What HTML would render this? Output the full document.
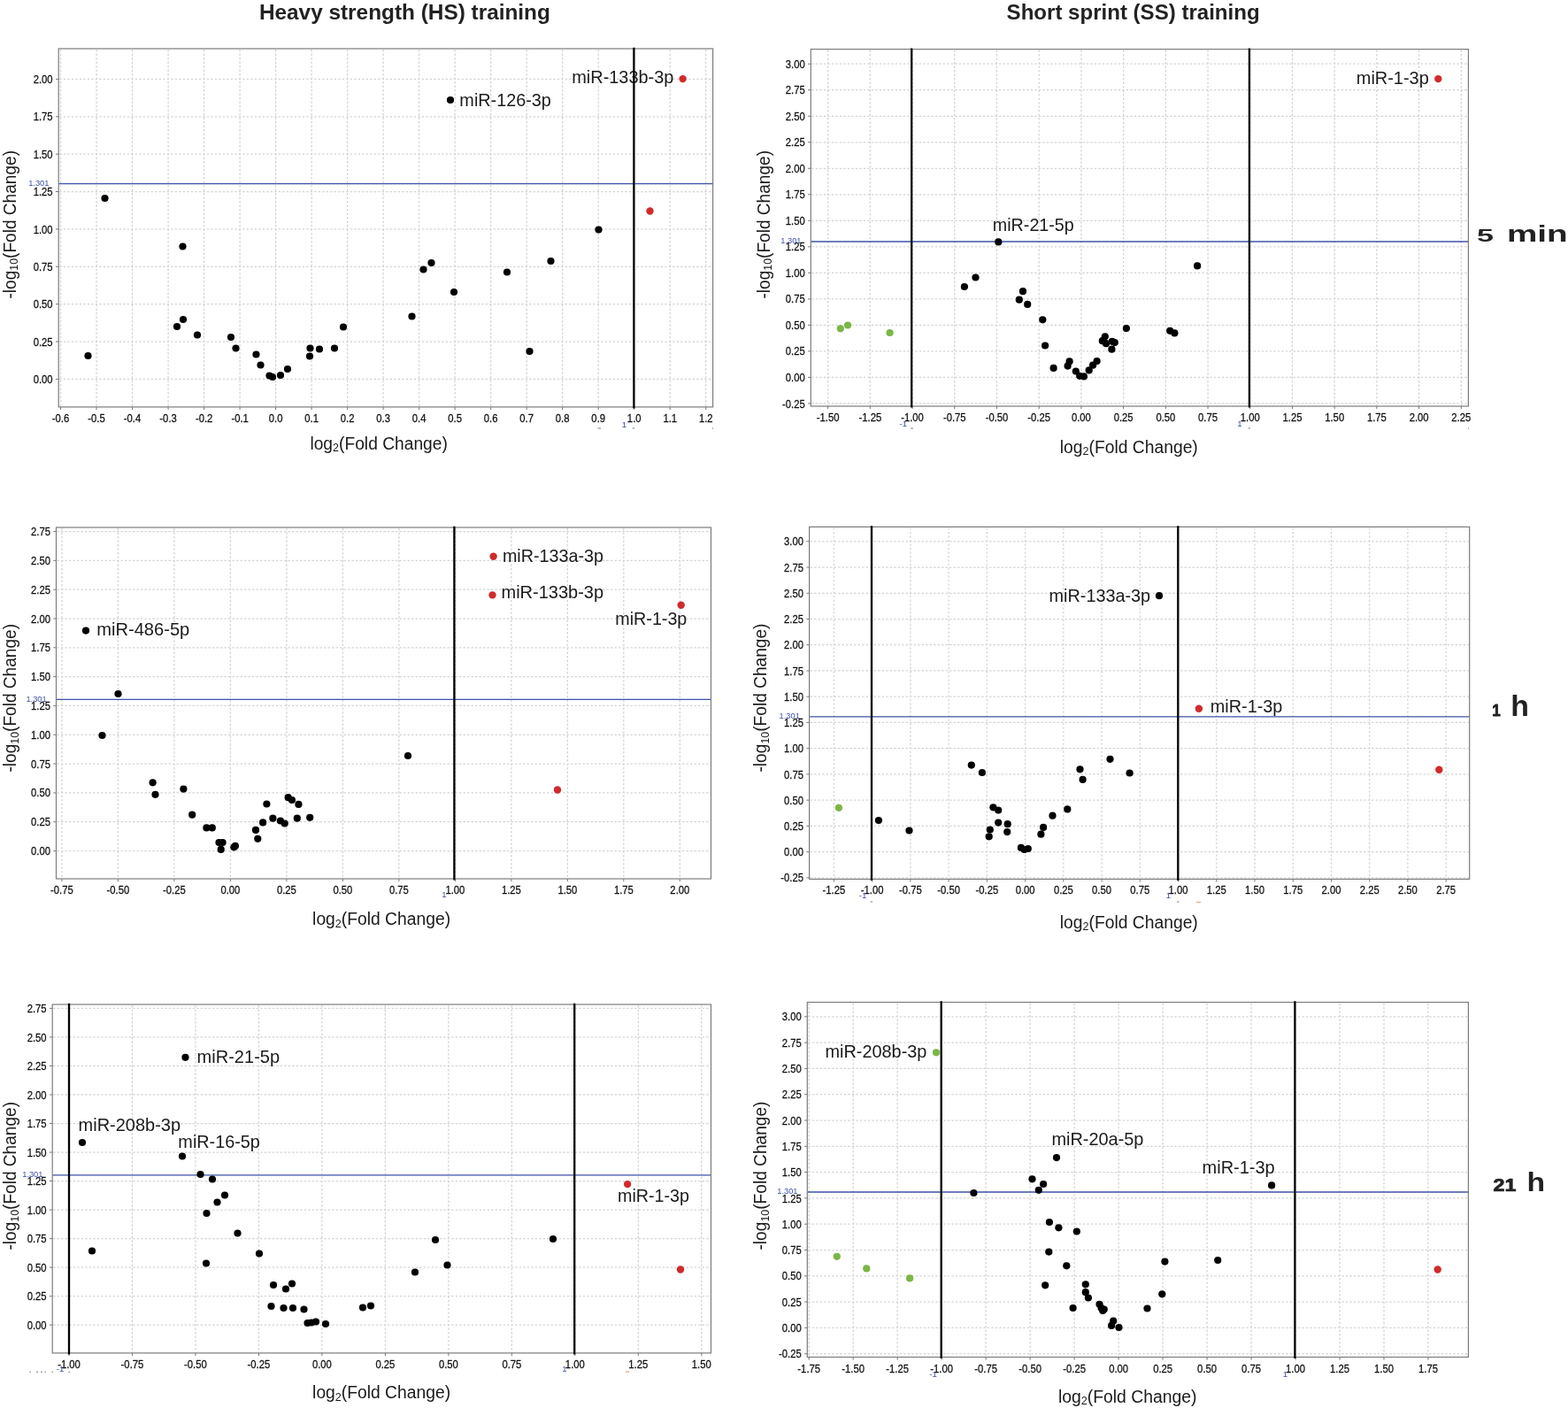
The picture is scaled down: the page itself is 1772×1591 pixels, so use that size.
<!DOCTYPE html><html><head><meta charset="utf-8"><title>Volcano plots: HS vs SS training</title><style>html,body{margin:0;padding:0;background:#fff;overflow:hidden}svg{display:block}</style></head><body>
<svg width="1772" height="1591" viewBox="0 0 1772 1591" font-family="'Liberation Sans', Arial, sans-serif">
<rect width="1772" height="1591" fill="#fff"/>
<path d="M68.54 56V459.4M109.05 56V459.4M149.56 56V459.4M190.07 56V459.4M230.58 56V459.4M271.09 56V459.4M311.6 56V459.4M352.11 56V459.4M392.62 56V459.4M433.13 56V459.4M473.64 56V459.4M514.15 56V459.4M554.66 56V459.4M595.17 56V459.4M635.68 56V459.4M676.19 56V459.4M716.7 56V459.4M757.21 56V459.4M797.72 56V459.4M67.2 428.4H805.1M67.2 386.02H805.1M67.2 343.65H805.1M67.2 301.27H805.1M67.2 258.9H805.1M67.2 216.52H805.1M67.2 174.15H805.1M67.2 131.77H805.1M67.2 89.4H805.1" stroke="#d3d3d3" stroke-width="1.25" stroke-dasharray="2.4 2.1" fill="none"/>
<path d="M68.54 459.9v3.2M109.05 459.9v3.2M149.56 459.9v3.2M190.07 459.9v3.2M230.58 459.9v3.2M271.09 459.9v3.2M311.6 459.9v3.2M352.11 459.9v3.2M392.62 459.9v3.2M433.13 459.9v3.2M473.64 459.9v3.2M514.15 459.9v3.2M554.66 459.9v3.2M595.17 459.9v3.2M635.68 459.9v3.2M676.19 459.9v3.2M716.7 459.9v3.2M757.21 459.9v3.2M797.72 459.9v3.2M66.2 428.4h-3.2M66.2 386.02h-3.2M66.2 343.65h-3.2M66.2 301.27h-3.2M66.2 258.9h-3.2M66.2 216.52h-3.2M66.2 174.15h-3.2M66.2 131.77h-3.2M66.2 89.4h-3.2" stroke="#777" stroke-width="1" fill="none"/>
<rect x="66.2" y="55" width="739.4" height="404.9" fill="none" stroke="#7c7c7c" stroke-width="1.2"/>
<g font-size="12.6" fill="#111" stroke="#111" stroke-width="0.28"><text transform="translate(68.54 476.9) scale(0.895 1)" text-anchor="middle">-0.6</text><text transform="translate(109.05 476.9) scale(0.895 1)" text-anchor="middle">-0.5</text><text transform="translate(149.56 476.9) scale(0.895 1)" text-anchor="middle">-0.4</text><text transform="translate(190.07 476.9) scale(0.895 1)" text-anchor="middle">-0.3</text><text transform="translate(230.58 476.9) scale(0.895 1)" text-anchor="middle">-0.2</text><text transform="translate(271.09 476.9) scale(0.895 1)" text-anchor="middle">-0.1</text><text transform="translate(311.6 476.9) scale(0.895 1)" text-anchor="middle">0.0</text><text transform="translate(352.11 476.9) scale(0.895 1)" text-anchor="middle">0.1</text><text transform="translate(392.62 476.9) scale(0.895 1)" text-anchor="middle">0.2</text><text transform="translate(433.13 476.9) scale(0.895 1)" text-anchor="middle">0.3</text><text transform="translate(473.64 476.9) scale(0.895 1)" text-anchor="middle">0.4</text><text transform="translate(514.15 476.9) scale(0.895 1)" text-anchor="middle">0.5</text><text transform="translate(554.66 476.9) scale(0.895 1)" text-anchor="middle">0.6</text><text transform="translate(595.17 476.9) scale(0.895 1)" text-anchor="middle">0.7</text><text transform="translate(635.68 476.9) scale(0.895 1)" text-anchor="middle">0.8</text><text transform="translate(676.19 476.9) scale(0.895 1)" text-anchor="middle">0.9</text><text transform="translate(716.7 476.9) scale(0.895 1)" text-anchor="middle">1.0</text><text transform="translate(757.21 476.9) scale(0.895 1)" text-anchor="middle">1.1</text><text transform="translate(797.72 476.9) scale(0.895 1)" text-anchor="middle">1.2</text><text transform="translate(59.6 433) scale(0.895 1)" text-anchor="end">0.00</text><text transform="translate(59.6 390.62) scale(0.895 1)" text-anchor="end">0.25</text><text transform="translate(59.6 348.25) scale(0.895 1)" text-anchor="end">0.50</text><text transform="translate(59.6 305.88) scale(0.895 1)" text-anchor="end">0.75</text><text transform="translate(59.6 263.5) scale(0.895 1)" text-anchor="end">1.00</text><text transform="translate(59.6 221.12) scale(0.895 1)" text-anchor="end">1.25</text><text transform="translate(59.6 178.75) scale(0.895 1)" text-anchor="end">1.50</text><text transform="translate(59.6 136.37) scale(0.895 1)" text-anchor="end">1.75</text><text transform="translate(59.6 94) scale(0.895 1)" text-anchor="end">2.00</text></g>
<path d="M66.7 207.7H805.1" stroke="#3f50a8" stroke-width="1.3"/>
<text x="55.4" y="210.1" font-size="9.3" fill="#3f50a8" text-anchor="end">1.301</text>
<text x="705.5" y="482.5" font-size="9.6" fill="#3f50a8" text-anchor="middle">1</text>
<path d="M675.5 484H679" stroke="#999" stroke-width="1.3"/>
<path d="M714.7 484H717.3" stroke="#999" stroke-width="1.3"/>
<path d="M805 484H806" stroke="#999" stroke-width="1.3"/>
<path d="M935.63 56.6V458.5M983.34 56.6V458.5M1031.05 56.6V458.5M1078.76 56.6V458.5M1126.48 56.6V458.5M1174.19 56.6V458.5M1221.9 56.6V458.5M1269.61 56.6V458.5M1317.33 56.6V458.5M1365.04 56.6V458.5M1412.75 56.6V458.5M1460.46 56.6V458.5M1508.18 56.6V458.5M1555.89 56.6V458.5M1603.6 56.6V458.5M1651.31 56.6V458.5M917.3 455.91H1658.9M917.3 426.4H1658.9M917.3 396.88H1658.9M917.3 367.37H1658.9M917.3 337.85H1658.9M917.3 308.34H1658.9M917.3 278.82H1658.9M917.3 249.31H1658.9M917.3 219.79H1658.9M917.3 190.28H1658.9M917.3 160.76H1658.9M917.3 131.25H1658.9M917.3 101.73H1658.9M917.3 72.22H1658.9" stroke="#d3d3d3" stroke-width="1.25" stroke-dasharray="2.4 2.1" fill="none"/>
<path d="M935.63 459v3.2M983.34 459v3.2M1031.05 459v3.2M1078.76 459v3.2M1126.48 459v3.2M1174.19 459v3.2M1221.9 459v3.2M1269.61 459v3.2M1317.33 459v3.2M1365.04 459v3.2M1412.75 459v3.2M1460.46 459v3.2M1508.18 459v3.2M1555.89 459v3.2M1603.6 459v3.2M1651.31 459v3.2M916.3 455.91h-3.2M916.3 426.4h-3.2M916.3 396.88h-3.2M916.3 367.37h-3.2M916.3 337.85h-3.2M916.3 308.34h-3.2M916.3 278.82h-3.2M916.3 249.31h-3.2M916.3 219.79h-3.2M916.3 190.28h-3.2M916.3 160.76h-3.2M916.3 131.25h-3.2M916.3 101.73h-3.2M916.3 72.22h-3.2" stroke="#777" stroke-width="1" fill="none"/>
<rect x="916.3" y="55.6" width="743.1" height="403.4" fill="none" stroke="#7c7c7c" stroke-width="1.2"/>
<g font-size="12.6" fill="#111" stroke="#111" stroke-width="0.28"><text transform="translate(935.63 476) scale(0.895 1)" text-anchor="middle">-1.50</text><text transform="translate(983.34 476) scale(0.895 1)" text-anchor="middle">-1.25</text><text transform="translate(1031.05 476) scale(0.895 1)" text-anchor="middle">-1.00</text><text transform="translate(1078.76 476) scale(0.895 1)" text-anchor="middle">-0.75</text><text transform="translate(1126.48 476) scale(0.895 1)" text-anchor="middle">-0.50</text><text transform="translate(1174.19 476) scale(0.895 1)" text-anchor="middle">-0.25</text><text transform="translate(1221.9 476) scale(0.895 1)" text-anchor="middle">0.00</text><text transform="translate(1269.61 476) scale(0.895 1)" text-anchor="middle">0.25</text><text transform="translate(1317.33 476) scale(0.895 1)" text-anchor="middle">0.50</text><text transform="translate(1365.04 476) scale(0.895 1)" text-anchor="middle">0.75</text><text transform="translate(1412.75 476) scale(0.895 1)" text-anchor="middle">1.00</text><text transform="translate(1460.46 476) scale(0.895 1)" text-anchor="middle">1.25</text><text transform="translate(1508.18 476) scale(0.895 1)" text-anchor="middle">1.50</text><text transform="translate(1555.89 476) scale(0.895 1)" text-anchor="middle">1.75</text><text transform="translate(1603.6 476) scale(0.895 1)" text-anchor="middle">2.00</text><text transform="translate(1651.31 476) scale(0.895 1)" text-anchor="middle">2.25</text><text transform="translate(909.7 460.51) scale(0.895 1)" text-anchor="end">-0.25</text><text transform="translate(909.7 431) scale(0.895 1)" text-anchor="end">0.00</text><text transform="translate(909.7 401.49) scale(0.895 1)" text-anchor="end">0.25</text><text transform="translate(909.7 371.97) scale(0.895 1)" text-anchor="end">0.50</text><text transform="translate(909.7 342.45) scale(0.895 1)" text-anchor="end">0.75</text><text transform="translate(909.7 312.94) scale(0.895 1)" text-anchor="end">1.00</text><text transform="translate(909.7 283.43) scale(0.895 1)" text-anchor="end">1.25</text><text transform="translate(909.7 253.91) scale(0.895 1)" text-anchor="end">1.50</text><text transform="translate(909.7 224.39) scale(0.895 1)" text-anchor="end">1.75</text><text transform="translate(909.7 194.88) scale(0.895 1)" text-anchor="end">2.00</text><text transform="translate(909.7 165.36) scale(0.895 1)" text-anchor="end">2.25</text><text transform="translate(909.7 135.85) scale(0.895 1)" text-anchor="end">2.50</text><text transform="translate(909.7 106.33) scale(0.895 1)" text-anchor="end">2.75</text><text transform="translate(909.7 76.82) scale(0.895 1)" text-anchor="end">3.00</text></g>
<path d="M916.8 273H1658.9" stroke="#3f50a8" stroke-width="1.3"/>
<text x="905.5" y="275.4" font-size="9.3" fill="#3f50a8" text-anchor="end">1.301</text>
<text x="1020.8" y="482" font-size="9.6" fill="#3f50a8" text-anchor="middle">-1</text>
<text x="1401" y="482" font-size="9.6" fill="#3f50a8" text-anchor="middle">1</text>
<path d="M1029.2 484H1031.9" stroke="#999" stroke-width="1.3"/>
<path d="M1410.5 484H1413" stroke="#999" stroke-width="1.3"/>
<path d="M1659 484H1660" stroke="#999" stroke-width="1.3"/>
<path d="M69.93 597V992.5M133.42 597V992.5M196.91 597V992.5M260.4 597V992.5M323.89 597V992.5M387.38 597V992.5M450.87 597V992.5M514.36 597V992.5M577.85 597V992.5M641.34 597V992.5M704.83 597V992.5M768.32 597V992.5M64.5 961.5H803M64.5 928.69H803M64.5 895.88H803M64.5 863.07H803M64.5 830.26H803M64.5 797.45H803M64.5 764.64H803M64.5 731.83H803M64.5 699.02H803M64.5 666.21H803M64.5 633.4H803M64.5 600.59H803" stroke="#d3d3d3" stroke-width="1.25" stroke-dasharray="2.4 2.1" fill="none"/>
<path d="M69.93 993v3.2M133.42 993v3.2M196.91 993v3.2M260.4 993v3.2M323.89 993v3.2M387.38 993v3.2M450.87 993v3.2M514.36 993v3.2M577.85 993v3.2M641.34 993v3.2M704.83 993v3.2M768.32 993v3.2M63.5 961.5h-3.2M63.5 928.69h-3.2M63.5 895.88h-3.2M63.5 863.07h-3.2M63.5 830.26h-3.2M63.5 797.45h-3.2M63.5 764.64h-3.2M63.5 731.83h-3.2M63.5 699.02h-3.2M63.5 666.21h-3.2M63.5 633.4h-3.2M63.5 600.59h-3.2" stroke="#777" stroke-width="1" fill="none"/>
<rect x="63.5" y="596" width="740" height="397" fill="none" stroke="#7c7c7c" stroke-width="1.2"/>
<g font-size="12.6" fill="#111" stroke="#111" stroke-width="0.28"><text transform="translate(69.93 1010) scale(0.895 1)" text-anchor="middle">-0.75</text><text transform="translate(133.42 1010) scale(0.895 1)" text-anchor="middle">-0.50</text><text transform="translate(196.91 1010) scale(0.895 1)" text-anchor="middle">-0.25</text><text transform="translate(260.4 1010) scale(0.895 1)" text-anchor="middle">0.00</text><text transform="translate(323.89 1010) scale(0.895 1)" text-anchor="middle">0.25</text><text transform="translate(387.38 1010) scale(0.895 1)" text-anchor="middle">0.50</text><text transform="translate(450.87 1010) scale(0.895 1)" text-anchor="middle">0.75</text><text transform="translate(514.36 1010) scale(0.895 1)" text-anchor="middle">1.00</text><text transform="translate(577.85 1010) scale(0.895 1)" text-anchor="middle">1.25</text><text transform="translate(641.34 1010) scale(0.895 1)" text-anchor="middle">1.50</text><text transform="translate(704.83 1010) scale(0.895 1)" text-anchor="middle">1.75</text><text transform="translate(768.32 1010) scale(0.895 1)" text-anchor="middle">2.00</text><text transform="translate(56.9 966.1) scale(0.895 1)" text-anchor="end">0.00</text><text transform="translate(56.9 933.29) scale(0.895 1)" text-anchor="end">0.25</text><text transform="translate(56.9 900.48) scale(0.895 1)" text-anchor="end">0.50</text><text transform="translate(56.9 867.67) scale(0.895 1)" text-anchor="end">0.75</text><text transform="translate(56.9 834.86) scale(0.895 1)" text-anchor="end">1.00</text><text transform="translate(56.9 802.05) scale(0.895 1)" text-anchor="end">1.25</text><text transform="translate(56.9 769.24) scale(0.895 1)" text-anchor="end">1.50</text><text transform="translate(56.9 736.43) scale(0.895 1)" text-anchor="end">1.75</text><text transform="translate(56.9 703.62) scale(0.895 1)" text-anchor="end">2.00</text><text transform="translate(56.9 670.81) scale(0.895 1)" text-anchor="end">2.25</text><text transform="translate(56.9 638) scale(0.895 1)" text-anchor="end">2.50</text><text transform="translate(56.9 605.19) scale(0.895 1)" text-anchor="end">2.75</text></g>
<path d="M64 790.4H803" stroke="#3f50a8" stroke-width="1.3"/>
<text x="52.7" y="792.8" font-size="9.3" fill="#3f50a8" text-anchor="end">1.301</text>
<text x="502" y="1014" font-size="9.6" fill="#3f50a8" text-anchor="middle">1</text>
<path d="M942.44 596.4V992.9M985.67 596.4V992.9M1028.9 596.4V992.9M1072.13 596.4V992.9M1115.37 596.4V992.9M1158.6 596.4V992.9M1201.83 596.4V992.9M1245.06 596.4V992.9M1288.3 596.4V992.9M1331.53 596.4V992.9M1374.76 596.4V992.9M1417.99 596.4V992.9M1461.23 596.4V992.9M1504.46 596.4V992.9M1547.69 596.4V992.9M1590.92 596.4V992.9M1634.16 596.4V992.9M915.6 991.83H1660.2M915.6 962.6H1660.2M915.6 933.37H1660.2M915.6 904.13H1660.2M915.6 874.9H1660.2M915.6 845.67H1660.2M915.6 816.44H1660.2M915.6 787.21H1660.2M915.6 757.97H1660.2M915.6 728.74H1660.2M915.6 699.51H1660.2M915.6 670.27H1660.2M915.6 641.04H1660.2M915.6 611.81H1660.2" stroke="#d3d3d3" stroke-width="1.25" stroke-dasharray="2.4 2.1" fill="none"/>
<path d="M942.44 993.4v3.2M985.67 993.4v3.2M1028.9 993.4v3.2M1072.13 993.4v3.2M1115.37 993.4v3.2M1158.6 993.4v3.2M1201.83 993.4v3.2M1245.06 993.4v3.2M1288.3 993.4v3.2M1331.53 993.4v3.2M1374.76 993.4v3.2M1417.99 993.4v3.2M1461.23 993.4v3.2M1504.46 993.4v3.2M1547.69 993.4v3.2M1590.92 993.4v3.2M1634.16 993.4v3.2M914.6 991.83h-3.2M914.6 962.6h-3.2M914.6 933.37h-3.2M914.6 904.13h-3.2M914.6 874.9h-3.2M914.6 845.67h-3.2M914.6 816.44h-3.2M914.6 787.21h-3.2M914.6 757.97h-3.2M914.6 728.74h-3.2M914.6 699.51h-3.2M914.6 670.27h-3.2M914.6 641.04h-3.2M914.6 611.81h-3.2" stroke="#777" stroke-width="1" fill="none"/>
<rect x="914.6" y="595.4" width="746.1" height="398" fill="none" stroke="#7c7c7c" stroke-width="1.2"/>
<g font-size="12.6" fill="#111" stroke="#111" stroke-width="0.28"><text transform="translate(942.44 1010.4) scale(0.895 1)" text-anchor="middle">-1.25</text><text transform="translate(985.67 1010.4) scale(0.895 1)" text-anchor="middle">-1.00</text><text transform="translate(1028.9 1010.4) scale(0.895 1)" text-anchor="middle">-0.75</text><text transform="translate(1072.13 1010.4) scale(0.895 1)" text-anchor="middle">-0.50</text><text transform="translate(1115.37 1010.4) scale(0.895 1)" text-anchor="middle">-0.25</text><text transform="translate(1158.6 1010.4) scale(0.895 1)" text-anchor="middle">0.00</text><text transform="translate(1201.83 1010.4) scale(0.895 1)" text-anchor="middle">0.25</text><text transform="translate(1245.06 1010.4) scale(0.895 1)" text-anchor="middle">0.50</text><text transform="translate(1288.3 1010.4) scale(0.895 1)" text-anchor="middle">0.75</text><text transform="translate(1331.53 1010.4) scale(0.895 1)" text-anchor="middle">1.00</text><text transform="translate(1374.76 1010.4) scale(0.895 1)" text-anchor="middle">1.25</text><text transform="translate(1417.99 1010.4) scale(0.895 1)" text-anchor="middle">1.50</text><text transform="translate(1461.23 1010.4) scale(0.895 1)" text-anchor="middle">1.75</text><text transform="translate(1504.46 1010.4) scale(0.895 1)" text-anchor="middle">2.00</text><text transform="translate(1547.69 1010.4) scale(0.895 1)" text-anchor="middle">2.25</text><text transform="translate(1590.92 1010.4) scale(0.895 1)" text-anchor="middle">2.50</text><text transform="translate(1634.16 1010.4) scale(0.895 1)" text-anchor="middle">2.75</text><text transform="translate(908 996.43) scale(0.895 1)" text-anchor="end">-0.25</text><text transform="translate(908 967.2) scale(0.895 1)" text-anchor="end">0.00</text><text transform="translate(908 937.97) scale(0.895 1)" text-anchor="end">0.25</text><text transform="translate(908 908.74) scale(0.895 1)" text-anchor="end">0.50</text><text transform="translate(908 879.5) scale(0.895 1)" text-anchor="end">0.75</text><text transform="translate(908 850.27) scale(0.895 1)" text-anchor="end">1.00</text><text transform="translate(908 821.04) scale(0.895 1)" text-anchor="end">1.25</text><text transform="translate(908 791.81) scale(0.895 1)" text-anchor="end">1.50</text><text transform="translate(908 762.57) scale(0.895 1)" text-anchor="end">1.75</text><text transform="translate(908 733.34) scale(0.895 1)" text-anchor="end">2.00</text><text transform="translate(908 704.11) scale(0.895 1)" text-anchor="end">2.25</text><text transform="translate(908 674.88) scale(0.895 1)" text-anchor="end">2.50</text><text transform="translate(908 645.64) scale(0.895 1)" text-anchor="end">2.75</text><text transform="translate(908 616.41) scale(0.895 1)" text-anchor="end">3.00</text></g>
<path d="M915.1 809.9H1660.2" stroke="#3f50a8" stroke-width="1.3"/>
<text x="903.8" y="812.3" font-size="9.3" fill="#3f50a8" text-anchor="end">1.301</text>
<text x="975" y="1015" font-size="9.6" fill="#3f50a8" text-anchor="middle">-1</text>
<text x="1320.5" y="1015" font-size="9.6" fill="#3f50a8" text-anchor="middle">1</text>
<path d="M1352 1019.5H1357" stroke="#f0a090" stroke-width="1.3"/>
<path d="M983.5 1019H986" stroke="#999" stroke-width="1.3"/>
<path d="M1330 1019H1332.5" stroke="#999" stroke-width="1.3"/>
<path d="M77.98 1136V1528.4M149.46 1136V1528.4M220.94 1136V1528.4M292.42 1136V1528.4M363.9 1136V1528.4M435.38 1136V1528.4M506.86 1136V1528.4M578.34 1136V1528.4M649.82 1136V1528.4M721.3 1136V1528.4M792.78 1136V1528.4M60.2 1497.2H803M60.2 1464.67H803M60.2 1432.14H803M60.2 1399.62H803M60.2 1367.09H803M60.2 1334.56H803M60.2 1302.04H803M60.2 1269.51H803M60.2 1236.98H803M60.2 1204.45H803M60.2 1171.92H803M60.2 1139.4H803" stroke="#d3d3d3" stroke-width="1.25" stroke-dasharray="2.4 2.1" fill="none"/>
<path d="M77.98 1528.9v3.2M149.46 1528.9v3.2M220.94 1528.9v3.2M292.42 1528.9v3.2M363.9 1528.9v3.2M435.38 1528.9v3.2M506.86 1528.9v3.2M578.34 1528.9v3.2M649.82 1528.9v3.2M721.3 1528.9v3.2M792.78 1528.9v3.2M59.2 1497.2h-3.2M59.2 1464.67h-3.2M59.2 1432.14h-3.2M59.2 1399.62h-3.2M59.2 1367.09h-3.2M59.2 1334.56h-3.2M59.2 1302.04h-3.2M59.2 1269.51h-3.2M59.2 1236.98h-3.2M59.2 1204.45h-3.2M59.2 1171.92h-3.2M59.2 1139.4h-3.2" stroke="#777" stroke-width="1" fill="none"/>
<rect x="59.2" y="1135" width="744.3" height="393.9" fill="none" stroke="#7c7c7c" stroke-width="1.2"/>
<g font-size="12.6" fill="#111" stroke="#111" stroke-width="0.28"><text transform="translate(77.98 1545.9) scale(0.895 1)" text-anchor="middle">-1.00</text><text transform="translate(149.46 1545.9) scale(0.895 1)" text-anchor="middle">-0.75</text><text transform="translate(220.94 1545.9) scale(0.895 1)" text-anchor="middle">-0.50</text><text transform="translate(292.42 1545.9) scale(0.895 1)" text-anchor="middle">-0.25</text><text transform="translate(363.9 1545.9) scale(0.895 1)" text-anchor="middle">0.00</text><text transform="translate(435.38 1545.9) scale(0.895 1)" text-anchor="middle">0.25</text><text transform="translate(506.86 1545.9) scale(0.895 1)" text-anchor="middle">0.50</text><text transform="translate(578.34 1545.9) scale(0.895 1)" text-anchor="middle">0.75</text><text transform="translate(649.82 1545.9) scale(0.895 1)" text-anchor="middle">1.00</text><text transform="translate(721.3 1545.9) scale(0.895 1)" text-anchor="middle">1.25</text><text transform="translate(792.78 1545.9) scale(0.895 1)" text-anchor="middle">1.50</text><text transform="translate(52.6 1501.8) scale(0.895 1)" text-anchor="end">0.00</text><text transform="translate(52.6 1469.27) scale(0.895 1)" text-anchor="end">0.25</text><text transform="translate(52.6 1436.74) scale(0.895 1)" text-anchor="end">0.50</text><text transform="translate(52.6 1404.22) scale(0.895 1)" text-anchor="end">0.75</text><text transform="translate(52.6 1371.69) scale(0.895 1)" text-anchor="end">1.00</text><text transform="translate(52.6 1339.16) scale(0.895 1)" text-anchor="end">1.25</text><text transform="translate(52.6 1306.63) scale(0.895 1)" text-anchor="end">1.50</text><text transform="translate(52.6 1274.11) scale(0.895 1)" text-anchor="end">1.75</text><text transform="translate(52.6 1241.58) scale(0.895 1)" text-anchor="end">2.00</text><text transform="translate(52.6 1209.05) scale(0.895 1)" text-anchor="end">2.25</text><text transform="translate(52.6 1176.52) scale(0.895 1)" text-anchor="end">2.50</text><text transform="translate(52.6 1144) scale(0.895 1)" text-anchor="end">2.75</text></g>
<path d="M59.7 1327.8H803" stroke="#3f50a8" stroke-width="1.3"/>
<text x="48.4" y="1330.2" font-size="9.3" fill="#3f50a8" text-anchor="end">1.301</text>
<text x="68" y="1550" font-size="9.6" fill="#3f50a8" text-anchor="middle">-1</text>
<text x="638" y="1550" font-size="9.6" fill="#3f50a8" text-anchor="middle">1</text>
<path d="M707 1550H711" stroke="#f0a090" stroke-width="1.3"/>
<path d="M33.5 1550.4H35" stroke="#999" stroke-width="1.3"/>
<path d="M41 1550.4H43" stroke="#999" stroke-width="1.3"/>
<path d="M46 1550.4H48" stroke="#999" stroke-width="1.3"/>
<path d="M50.5 1550.4H52" stroke="#999" stroke-width="1.3"/>
<path d="M58.5 1550.4H60" stroke="#999" stroke-width="1.3"/>
<path d="M77.3 1550.4H79.3" stroke="#999" stroke-width="1.3"/>
<path d="M914.2 1133.5V1533M964.19 1133.5V1533M1014.17 1133.5V1533M1064.16 1133.5V1533M1114.14 1133.5V1533M1164.13 1133.5V1533M1214.12 1133.5V1533M1264.1 1133.5V1533M1314.08 1133.5V1533M1364.07 1133.5V1533M1414.05 1133.5V1533M1464.04 1133.5V1533M1514.02 1133.5V1533M1564.01 1133.5V1533M1613.99 1133.5V1533M913.3 1529.7H1658.9M913.3 1500.4H1658.9M913.3 1471.1H1658.9M913.3 1441.8H1658.9M913.3 1412.5H1658.9M913.3 1383.2H1658.9M913.3 1353.9H1658.9M913.3 1324.6H1658.9M913.3 1295.3H1658.9M913.3 1266H1658.9M913.3 1236.7H1658.9M913.3 1207.4H1658.9M913.3 1178.1H1658.9M913.3 1148.8H1658.9" stroke="#d3d3d3" stroke-width="1.25" stroke-dasharray="2.4 2.1" fill="none"/>
<path d="M914.2 1533.5v3.2M964.19 1533.5v3.2M1014.17 1533.5v3.2M1064.16 1533.5v3.2M1114.14 1533.5v3.2M1164.13 1533.5v3.2M1214.12 1533.5v3.2M1264.1 1533.5v3.2M1314.08 1533.5v3.2M1364.07 1533.5v3.2M1414.05 1533.5v3.2M1464.04 1533.5v3.2M1514.02 1533.5v3.2M1564.01 1533.5v3.2M1613.99 1533.5v3.2M912.3 1529.7h-3.2M912.3 1500.4h-3.2M912.3 1471.1h-3.2M912.3 1441.8h-3.2M912.3 1412.5h-3.2M912.3 1383.2h-3.2M912.3 1353.9h-3.2M912.3 1324.6h-3.2M912.3 1295.3h-3.2M912.3 1266h-3.2M912.3 1236.7h-3.2M912.3 1207.4h-3.2M912.3 1178.1h-3.2M912.3 1148.8h-3.2" stroke="#777" stroke-width="1" fill="none"/>
<rect x="912.3" y="1132.5" width="747.1" height="401" fill="none" stroke="#7c7c7c" stroke-width="1.2"/>
<g font-size="12.6" fill="#111" stroke="#111" stroke-width="0.28"><text transform="translate(914.2 1550.5) scale(0.895 1)" text-anchor="middle">-1.75</text><text transform="translate(964.19 1550.5) scale(0.895 1)" text-anchor="middle">-1.50</text><text transform="translate(1014.17 1550.5) scale(0.895 1)" text-anchor="middle">-1.25</text><text transform="translate(1064.16 1550.5) scale(0.895 1)" text-anchor="middle">-1.00</text><text transform="translate(1114.14 1550.5) scale(0.895 1)" text-anchor="middle">-0.75</text><text transform="translate(1164.13 1550.5) scale(0.895 1)" text-anchor="middle">-0.50</text><text transform="translate(1214.12 1550.5) scale(0.895 1)" text-anchor="middle">-0.25</text><text transform="translate(1264.1 1550.5) scale(0.895 1)" text-anchor="middle">0.00</text><text transform="translate(1314.08 1550.5) scale(0.895 1)" text-anchor="middle">0.25</text><text transform="translate(1364.07 1550.5) scale(0.895 1)" text-anchor="middle">0.50</text><text transform="translate(1414.05 1550.5) scale(0.895 1)" text-anchor="middle">0.75</text><text transform="translate(1464.04 1550.5) scale(0.895 1)" text-anchor="middle">1.00</text><text transform="translate(1514.02 1550.5) scale(0.895 1)" text-anchor="middle">1.25</text><text transform="translate(1564.01 1550.5) scale(0.895 1)" text-anchor="middle">1.50</text><text transform="translate(1613.99 1550.5) scale(0.895 1)" text-anchor="middle">1.75</text><text transform="translate(905.7 1534.3) scale(0.895 1)" text-anchor="end">-0.25</text><text transform="translate(905.7 1505) scale(0.895 1)" text-anchor="end">0.00</text><text transform="translate(905.7 1475.7) scale(0.895 1)" text-anchor="end">0.25</text><text transform="translate(905.7 1446.4) scale(0.895 1)" text-anchor="end">0.50</text><text transform="translate(905.7 1417.1) scale(0.895 1)" text-anchor="end">0.75</text><text transform="translate(905.7 1387.8) scale(0.895 1)" text-anchor="end">1.00</text><text transform="translate(905.7 1358.5) scale(0.895 1)" text-anchor="end">1.25</text><text transform="translate(905.7 1329.2) scale(0.895 1)" text-anchor="end">1.50</text><text transform="translate(905.7 1299.9) scale(0.895 1)" text-anchor="end">1.75</text><text transform="translate(905.7 1270.6) scale(0.895 1)" text-anchor="end">2.00</text><text transform="translate(905.7 1241.3) scale(0.895 1)" text-anchor="end">2.25</text><text transform="translate(905.7 1212) scale(0.895 1)" text-anchor="end">2.50</text><text transform="translate(905.7 1182.7) scale(0.895 1)" text-anchor="end">2.75</text><text transform="translate(905.7 1153.4) scale(0.895 1)" text-anchor="end">3.00</text></g>
<path d="M912.8 1347H1658.9" stroke="#3f50a8" stroke-width="1.3"/>
<text x="901.5" y="1349.4" font-size="9.3" fill="#3f50a8" text-anchor="end">1.301</text>
<text x="1054.5" y="1556" font-size="9.6" fill="#3f50a8" text-anchor="middle">-1</text>
<text x="1452.5" y="1556" font-size="9.6" fill="#3f50a8" text-anchor="middle">1</text>
<text x="519.38" y="120.00" font-size="19.8" font-weight="normal" fill="#1a1a1a" textLength="103.51" lengthAdjust="spacingAndGlyphs">miR-126-3p</text>
<text x="646.30" y="94.00" font-size="19.8" font-weight="normal" fill="#1a1a1a" textLength="115.02" lengthAdjust="spacingAndGlyphs">miR-133b-3p</text>
<text x="1121.81" y="260.90" font-size="19.8" font-weight="normal" fill="#1a1a1a" textLength="92.00" lengthAdjust="spacingAndGlyphs">miR-21-5p</text>
<text x="1532.78" y="94.70" font-size="19.8" font-weight="normal" fill="#1a1a1a" textLength="82.02" lengthAdjust="spacingAndGlyphs">miR-1-3p</text>
<text x="109.28" y="717.50" font-size="19.8" font-weight="normal" fill="#1a1a1a" textLength="105.03" lengthAdjust="spacingAndGlyphs">miR-486-5p</text>
<text x="567.91" y="635.10" font-size="19.8" font-weight="normal" fill="#1a1a1a" textLength="113.99" lengthAdjust="spacingAndGlyphs">miR-133a-3p</text>
<text x="566.51" y="676.00" font-size="19.8" font-weight="normal" fill="#1a1a1a" textLength="115.52" lengthAdjust="spacingAndGlyphs">miR-133b-3p</text>
<text x="695.30" y="706.40" font-size="19.8" font-weight="normal" fill="#1a1a1a" textLength="81.02" lengthAdjust="spacingAndGlyphs">miR-1-3p</text>
<text x="1185.59" y="679.80" font-size="19.8" font-weight="normal" fill="#1a1a1a" textLength="114.52" lengthAdjust="spacingAndGlyphs">miR-133a-3p</text>
<text x="1367.81" y="804.80" font-size="19.8" font-weight="normal" fill="#1a1a1a" textLength="81.51" lengthAdjust="spacingAndGlyphs">miR-1-3p</text>
<text x="222.59" y="1200.70" font-size="19.8" font-weight="normal" fill="#1a1a1a" textLength="93.54" lengthAdjust="spacingAndGlyphs">miR-21-5p</text>
<text x="88.59" y="1278.40" font-size="19.8" font-weight="normal" fill="#1a1a1a" textLength="115.52" lengthAdjust="spacingAndGlyphs">miR-208b-3p</text>
<text x="201.39" y="1296.60" font-size="19.8" font-weight="normal" fill="#1a1a1a" textLength="92.51" lengthAdjust="spacingAndGlyphs">miR-16-5p</text>
<text x="698.01" y="1358.30" font-size="19.8" font-weight="normal" fill="#1a1a1a" textLength="81.00" lengthAdjust="spacingAndGlyphs">miR-1-3p</text>
<text x="932.40" y="1194.50" font-size="19.8" font-weight="normal" fill="#1a1a1a" textLength="115.00" lengthAdjust="spacingAndGlyphs">miR-208b-3p</text>
<text x="1188.40" y="1293.90" font-size="19.8" font-weight="normal" fill="#1a1a1a" textLength="104.02" lengthAdjust="spacingAndGlyphs">miR-20a-5p</text>
<text x="1358.60" y="1326.00" font-size="19.8" font-weight="normal" fill="#1a1a1a" textLength="82.02" lengthAdjust="spacingAndGlyphs">miR-1-3p</text>
<text x="350.40" y="507.70" font-size="20.0" font-weight="normal" fill="#1a1a1a" textLength="155.52" lengthAdjust="spacingAndGlyphs">log<tspan font-size="13" dy="2.5">2</tspan><tspan dy="-2.5">(Fold Change)</tspan></text>
<text x="1197.79" y="511.90" font-size="20.0" font-weight="normal" fill="#1a1a1a" textLength="156.01" lengthAdjust="spacingAndGlyphs">log<tspan font-size="13" dy="2.5">2</tspan><tspan dy="-2.5">(Fold Change)</tspan></text>
<text x="353.10" y="1045.30" font-size="20.0" font-weight="normal" fill="#1a1a1a" textLength="156.00" lengthAdjust="spacingAndGlyphs">log<tspan font-size="13" dy="2.5">2</tspan><tspan dy="-2.5">(Fold Change)</tspan></text>
<text x="1197.79" y="1048.90" font-size="20.0" font-weight="normal" fill="#1a1a1a" textLength="156.01" lengthAdjust="spacingAndGlyphs">log<tspan font-size="13" dy="2.5">2</tspan><tspan dy="-2.5">(Fold Change)</tspan></text>
<text x="353.10" y="1580.30" font-size="20.0" font-weight="normal" fill="#1a1a1a" textLength="156.00" lengthAdjust="spacingAndGlyphs">log<tspan font-size="13" dy="2.5">2</tspan><tspan dy="-2.5">(Fold Change)</tspan></text>
<text x="1195.90" y="1584.50" font-size="20.0" font-weight="normal" fill="#1a1a1a" textLength="156.50" lengthAdjust="spacingAndGlyphs">log<tspan font-size="13" dy="2.5">2</tspan><tspan dy="-2.5">(Fold Change)</tspan></text>
<text transform="translate(17.80 337.50) rotate(-90)" font-size="20.0" font-weight="normal" fill="#1a1a1a" textLength="167.49" lengthAdjust="spacingAndGlyphs">-log<tspan font-size="13" dy="2.5">10</tspan><tspan dy="-2.5">(Fold Change)</tspan></text>
<text transform="translate(869.80 337.50) rotate(-90)" font-size="20.0" font-weight="normal" fill="#1a1a1a" textLength="167.50" lengthAdjust="spacingAndGlyphs">-log<tspan font-size="13" dy="2.5">10</tspan><tspan dy="-2.5">(Fold Change)</tspan></text>
<text transform="translate(18.00 872.50) rotate(-90)" font-size="20.0" font-weight="normal" fill="#1a1a1a" textLength="167.49" lengthAdjust="spacingAndGlyphs">-log<tspan font-size="13" dy="2.5">10</tspan><tspan dy="-2.5">(Fold Change)</tspan></text>
<text transform="translate(866.20 872.50) rotate(-90)" font-size="20.0" font-weight="normal" fill="#1a1a1a" textLength="167.99" lengthAdjust="spacingAndGlyphs">-log<tspan font-size="13" dy="2.5">10</tspan><tspan dy="-2.5">(Fold Change)</tspan></text>
<text transform="translate(18.00 1412.50) rotate(-90)" font-size="20.0" font-weight="normal" fill="#1a1a1a" textLength="167.49" lengthAdjust="spacingAndGlyphs">-log<tspan font-size="13" dy="2.5">10</tspan><tspan dy="-2.5">(Fold Change)</tspan></text>
<text transform="translate(866.20 1412.50) rotate(-90)" font-size="20.0" font-weight="normal" fill="#1a1a1a" textLength="167.99" lengthAdjust="spacingAndGlyphs">-log<tspan font-size="13" dy="2.5">10</tspan><tspan dy="-2.5">(Fold Change)</tspan></text>
<text x="292.89" y="21.70" font-size="24.5" font-weight="bold" fill="#222" textLength="329.03" lengthAdjust="spacingAndGlyphs">Heavy strength (HS) training</text>
<text x="1137.60" y="22.00" font-size="24.5" font-weight="bold" fill="#222" textLength="286.01" lengthAdjust="spacingAndGlyphs">Short sprint (SS) training</text>
<text x="1669.12" y="273.40" font-size="19.8" font-weight="bold" fill="#222" textLength="19.00" lengthAdjust="spacingAndGlyphs">5</text>
<text x="1702.98" y="273.20" font-size="25.3" font-weight="bold" fill="#222" textLength="68.75" lengthAdjust="spacingAndGlyphs">min</text>
<text x="1686.27" y="808.80" font-size="19.1" font-weight="bold" fill="#222" stroke="#222" stroke-width="0.9" stroke-linejoin="round" textLength="9.43" lengthAdjust="spacingAndGlyphs">1</text>
<text x="1707.35" y="808.80" font-size="34.0" font-weight="bold" fill="#222" textLength="20.68" lengthAdjust="spacingAndGlyphs">h</text>
<text x="1687.50" y="1345.80" font-size="20.2" font-weight="bold" fill="#222" stroke="#222" stroke-width="0.7" stroke-linejoin="round" textLength="25.97" lengthAdjust="spacingAndGlyphs">21</text>
<text x="1725.61" y="1345.80" font-size="30.3" font-weight="bold" fill="#222" textLength="20.57" lengthAdjust="spacingAndGlyphs">h</text>
<g fill="#000"><circle cx="99.5" cy="402" r="4.1"/><circle cx="118.5" cy="224" r="4.1"/><circle cx="206.5" cy="278.5" r="4.1"/><circle cx="207" cy="361" r="4.1"/><circle cx="200" cy="369" r="4.1"/><circle cx="223" cy="378.5" r="4.1"/><circle cx="261" cy="381" r="4.1"/><circle cx="266.5" cy="393.5" r="4.1"/><circle cx="289.5" cy="400.5" r="4.1"/><circle cx="294.5" cy="412.5" r="4.1"/><circle cx="304.5" cy="424.5" r="4.1"/><circle cx="308" cy="426" r="4.1"/><circle cx="317" cy="424" r="4.1"/><circle cx="325" cy="417" r="4.1"/><circle cx="350.5" cy="393.5" r="4.1"/><circle cx="350" cy="402.5" r="4.1"/><circle cx="361" cy="394.5" r="4.1"/><circle cx="378" cy="393.5" r="4.1"/><circle cx="388" cy="369.5" r="4.1"/><circle cx="465.5" cy="357.5" r="4.1"/><circle cx="478.5" cy="304.5" r="4.1"/><circle cx="487.5" cy="297" r="4.1"/><circle cx="509" cy="113" r="4.1"/><circle cx="513" cy="330" r="4.1"/><circle cx="573" cy="307.5" r="4.1"/><circle cx="598.5" cy="397" r="4.1"/><circle cx="622.5" cy="295" r="4.1"/><circle cx="676.5" cy="259.5" r="4.1"/></g>
<g fill="#d12a2a"><circle cx="734.5" cy="238.5" r="4.2"/><circle cx="771.6" cy="89.1" r="4.2"/></g>
<path d="M716.4 53.8V461.4" stroke="#000" stroke-width="2.3"/>
<g fill="#000"><circle cx="1089.9" cy="324" r="4.1"/><circle cx="1102.5" cy="313.5" r="4.1"/><circle cx="1128.3" cy="273.4" r="4.1"/><circle cx="1151.8" cy="338.7" r="4.1"/><circle cx="1156" cy="329.2" r="4.1"/><circle cx="1161.2" cy="343.9" r="4.1"/><circle cx="1178.3" cy="361.3" r="4.1"/><circle cx="1181.1" cy="390.5" r="4.1"/><circle cx="1190.6" cy="415.9" r="4.1"/><circle cx="1208.6" cy="408.4" r="4.1"/><circle cx="1206.6" cy="413.6" r="4.1"/><circle cx="1215.8" cy="419.5" r="4.1"/><circle cx="1220.2" cy="424.8" r="4.1"/><circle cx="1224.9" cy="425.4" r="4.1"/><circle cx="1230.7" cy="418.4" r="4.1"/><circle cx="1235.1" cy="412.7" r="4.1"/><circle cx="1239.6" cy="408.1" r="4.1"/><circle cx="1248.8" cy="380.3" r="4.1"/><circle cx="1245.8" cy="385.2" r="4.1"/><circle cx="1250" cy="388.2" r="4.1"/><circle cx="1256.8" cy="385.8" r="4.1"/><circle cx="1259.8" cy="387.1" r="4.1"/><circle cx="1256.4" cy="394.7" r="4.1"/><circle cx="1272.9" cy="371" r="4.1"/><circle cx="1322.2" cy="373.8" r="4.1"/><circle cx="1327.4" cy="376.4" r="4.1"/><circle cx="1353.1" cy="300.4" r="4.1"/></g>
<g fill="#d12a2a"><circle cx="1625.3" cy="89.1" r="4.2"/></g>
<g fill="#7bb646"><circle cx="949.8" cy="371.3" r="4.1"/><circle cx="958" cy="367.5" r="4.1"/><circle cx="1005.6" cy="376" r="4.1"/></g>
<path d="M1030.2 54.4V460.5" stroke="#000" stroke-width="2.3"/>
<path d="M1411.9 54.4V460.5" stroke="#000" stroke-width="2.3"/>
<g fill="#000"><circle cx="97" cy="712.6" r="4.1"/><circle cx="133.5" cy="784" r="4.1"/><circle cx="115.5" cy="831" r="4.1"/><circle cx="172.6" cy="884.3" r="4.1"/><circle cx="175.5" cy="897.8" r="4.1"/><circle cx="207.4" cy="891.6" r="4.1"/><circle cx="217.2" cy="920.7" r="4.1"/><circle cx="233.4" cy="935.4" r="4.1"/><circle cx="239.8" cy="935.4" r="4.1"/><circle cx="247.5" cy="952" r="4.1"/><circle cx="251.6" cy="952" r="4.1"/><circle cx="249.7" cy="959.9" r="4.1"/><circle cx="264.4" cy="957.3" r="4.1"/><circle cx="265.9" cy="955.9" r="4.1"/><circle cx="289" cy="937.9" r="4.1"/><circle cx="291.3" cy="947.8" r="4.1"/><circle cx="297.1" cy="929.4" r="4.1"/><circle cx="301.4" cy="908.5" r="4.1"/><circle cx="308.4" cy="924.7" r="4.1"/><circle cx="316.9" cy="927.5" r="4.1"/><circle cx="321.7" cy="930.5" r="4.1"/><circle cx="325.7" cy="901.2" r="4.1"/><circle cx="329.9" cy="904" r="4.1"/><circle cx="335.8" cy="924.7" r="4.1"/><circle cx="337.4" cy="908.9" r="4.1"/><circle cx="350.2" cy="923.8" r="4.1"/><circle cx="461" cy="854" r="4.1"/></g>
<g fill="#d12a2a"><circle cx="557.6" cy="628.8" r="4.2"/><circle cx="556.5" cy="672.4" r="4.2"/><circle cx="769.7" cy="683.8" r="4.2"/><circle cx="630" cy="892.5" r="4.2"/></g>
<path d="M513.4 594.8V994.5" stroke="#000" stroke-width="2.3"/>
<g fill="#000"><circle cx="992.9" cy="927" r="4.1"/><circle cx="1027.5" cy="938.5" r="4.1"/><circle cx="1097.8" cy="864.6" r="4.1"/><circle cx="1109.9" cy="873" r="4.1"/><circle cx="1122.4" cy="912.3" r="4.1"/><circle cx="1128.2" cy="915.5" r="4.1"/><circle cx="1128.2" cy="929.6" r="4.1"/><circle cx="1118.8" cy="937.5" r="4.1"/><circle cx="1117.7" cy="945.3" r="4.1"/><circle cx="1138.7" cy="931.2" r="4.1"/><circle cx="1138.2" cy="940.1" r="4.1"/><circle cx="1153.9" cy="957.9" r="4.1"/><circle cx="1157.6" cy="960" r="4.1"/><circle cx="1161.8" cy="959" r="4.1"/><circle cx="1176.4" cy="942.7" r="4.1"/><circle cx="1179.1" cy="934.9" r="4.1"/><circle cx="1189.5" cy="921.7" r="4.1"/><circle cx="1206.3" cy="914.4" r="4.1"/><circle cx="1220.5" cy="869.3" r="4.1"/><circle cx="1223.6" cy="880.9" r="4.1"/><circle cx="1254.5" cy="857.8" r="4.1"/><circle cx="1276.6" cy="873.5" r="4.1"/><circle cx="1310" cy="673.2" r="4.1"/></g>
<g fill="#d12a2a"><circle cx="1354.9" cy="800.7" r="4.2"/><circle cx="1626.3" cy="869.8" r="4.2"/></g>
<g fill="#7bb646"><circle cx="947.9" cy="912.8" r="4.1"/></g>
<path d="M985 594.2V994.9" stroke="#000" stroke-width="2.3"/>
<path d="M1331.3 594.2V994.9" stroke="#000" stroke-width="2.3"/>
<g fill="#000"><circle cx="93" cy="1291" r="4.1"/><circle cx="104" cy="1413.5" r="4.1"/><circle cx="209.5" cy="1194.8" r="4.1"/><circle cx="206" cy="1306.5" r="4.1"/><circle cx="226.5" cy="1327" r="4.1"/><circle cx="240" cy="1332.5" r="4.1"/><circle cx="254" cy="1350.5" r="4.1"/><circle cx="245.5" cy="1358.5" r="4.1"/><circle cx="233.5" cy="1371" r="4.1"/><circle cx="268.5" cy="1393.5" r="4.1"/><circle cx="233" cy="1427.5" r="4.1"/><circle cx="293" cy="1416.5" r="4.1"/><circle cx="309" cy="1452" r="4.1"/><circle cx="323" cy="1456.5" r="4.1"/><circle cx="330" cy="1450.5" r="4.1"/><circle cx="306.5" cy="1476" r="4.1"/><circle cx="320.5" cy="1478" r="4.1"/><circle cx="331" cy="1478" r="4.1"/><circle cx="343.5" cy="1479.5" r="4.1"/><circle cx="347.5" cy="1495" r="4.1"/><circle cx="352" cy="1494.5" r="4.1"/><circle cx="357" cy="1493.5" r="4.1"/><circle cx="368" cy="1496" r="4.1"/><circle cx="410" cy="1477.5" r="4.1"/><circle cx="419" cy="1475.5" r="4.1"/><circle cx="469" cy="1437.5" r="4.1"/><circle cx="492" cy="1401" r="4.1"/><circle cx="505.5" cy="1429.5" r="4.1"/><circle cx="625" cy="1400" r="4.1"/></g>
<g fill="#d12a2a"><circle cx="709.1" cy="1338.1" r="4.2"/><circle cx="769" cy="1434.5" r="4.2"/></g>
<path d="M78 1133.8V1530.4" stroke="#000" stroke-width="2.3"/>
<path d="M649.2 1133.8V1530.4" stroke="#000" stroke-width="2.3"/>
<g fill="#000"><circle cx="1100.4" cy="1348" r="4.1"/><circle cx="1166.5" cy="1332.3" r="4.1"/><circle cx="1179.1" cy="1338" r="4.1"/><circle cx="1173.8" cy="1344.8" r="4.1"/><circle cx="1194" cy="1308.1" r="4.1"/><circle cx="1185.9" cy="1381" r="4.1"/><circle cx="1196.4" cy="1387.3" r="4.1"/><circle cx="1216.8" cy="1391.5" r="4.1"/><circle cx="1185.3" cy="1414.6" r="4.1"/><circle cx="1205.3" cy="1430.3" r="4.1"/><circle cx="1181.2" cy="1452.3" r="4.1"/><circle cx="1226.8" cy="1451.3" r="4.1"/><circle cx="1226.8" cy="1460.2" r="4.1"/><circle cx="1229.9" cy="1466.5" r="4.1"/><circle cx="1212.6" cy="1478" r="4.1"/><circle cx="1242.5" cy="1473.8" r="4.1"/><circle cx="1244.6" cy="1478" r="4.1"/><circle cx="1247.7" cy="1479.6" r="4.1"/><circle cx="1246.2" cy="1481.1" r="4.1"/><circle cx="1258.2" cy="1492.7" r="4.1"/><circle cx="1256.1" cy="1497.9" r="4.1"/><circle cx="1264.5" cy="1500" r="4.1"/><circle cx="1296.5" cy="1478.5" r="4.1"/><circle cx="1313.3" cy="1462.3" r="4.1"/><circle cx="1316.4" cy="1425.6" r="4.1"/><circle cx="1376.2" cy="1424" r="4.1"/><circle cx="1437.1" cy="1339.4" r="4.1"/></g>
<g fill="#d12a2a"><circle cx="1624.7" cy="1434.5" r="4.2"/></g>
<g fill="#7bb646"><circle cx="945.8" cy="1419.8" r="4.1"/><circle cx="979.3" cy="1433.4" r="4.1"/><circle cx="1028.1" cy="1444.4" r="4.1"/><circle cx="1058" cy="1189.3" r="4.1"/></g>
<path d="M1063.7 1131.3V1535" stroke="#000" stroke-width="2.3"/>
<path d="M1463.4 1131.3V1535" stroke="#000" stroke-width="2.3"/>
</svg></body></html>
